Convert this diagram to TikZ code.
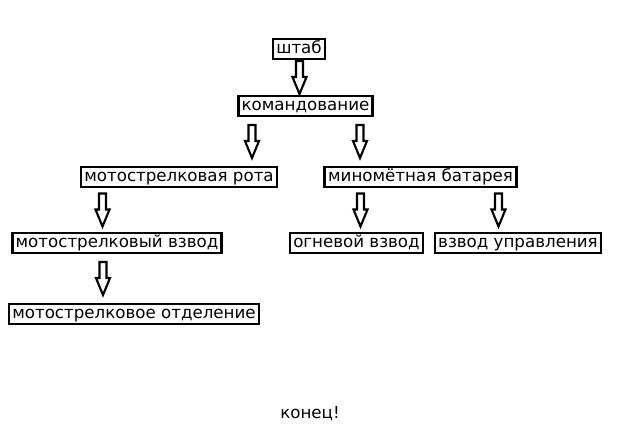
\documentclass[tikz,border=0pt]{standalone}
\usepackage{fontspec}
\setmainfont{DejaVu Sans}
\usetikzlibrary{calc}
\tikzset{
  unitbox/.style={draw=black, line width=2pt, fill=white, inner xsep=2.5pt, inner ysep=1.6pt,
    text height=9pt, text depth=2.8pt, font=\fontsize{12.5pt}{14pt}\selectfont},
  endlabel/.style={font=\fontsize{12.5pt}{14pt}\selectfont},
  arrline/.style={draw=black, line width=1.6pt, line join=miter}
}
% hollow block arrow from node #1 down to node #2 at pixel x = #3
\newcommand{\hollowarrow}[3]{%
  \coordinate (ha-m) at ($(#3,0 |- #1.south)!0.5!(#3,0 |- #2.north)$);
  \coordinate (ha-s) at ($(ha-m)+(0,-16.5)$);
  \coordinate (ha-e) at ($(ha-m)+(0,16.5)$);
  \draw[arrline] ($(ha-s)+(-3.5,0)$) -- ($(ha-e)+(-3.5,-17)$) -- ($(ha-e)+(-7,-17)$)
    -- (ha-e) -- ($(ha-e)+(7,-17)$) -- ($(ha-e)+(3.5,-17)$) -- ($(ha-s)+(3.5,0)$) -- cycle;
}

\begin{document}
\begin{tikzpicture}[x=0.75pt,y=-0.75pt]
  \useasboundingbox (0,0) rectangle (640,442);

  \node[unitbox] (shtab) at (299,49) {штаб};
  \node[unitbox] (komand) at (305.5,106) {командование};
  \node[unitbox] (rota) at (179,177) {мотострелковая рота};
  \node[unitbox] (batareya) at (420.5,177) {миномётная батарея};
  \node[unitbox] (vzvod) at (117,243) {мотострелковый взвод};
  \node[unitbox] (ognevoy) at (356.5,243) {огневой взвод};
  \node[unitbox] (upravl) at (518,243) {взвод управления};
  \node[unitbox] (otdel) at (134,314) {мотострелковое отделение};

  \node[endlabel] (konec) at (310,414) {конец!};

  \hollowarrow{shtab}{komand}{299.5}
  \hollowarrow{komand}{rota}{252}
  \hollowarrow{komand}{batareya}{360}
  \hollowarrow{rota}{vzvod}{102.5}
  \hollowarrow{batareya}{ognevoy}{360.5}
  \hollowarrow{batareya}{upravl}{498.5}
  \hollowarrow{vzvod}{otdel}{103}
\end{tikzpicture}
\end{document}
